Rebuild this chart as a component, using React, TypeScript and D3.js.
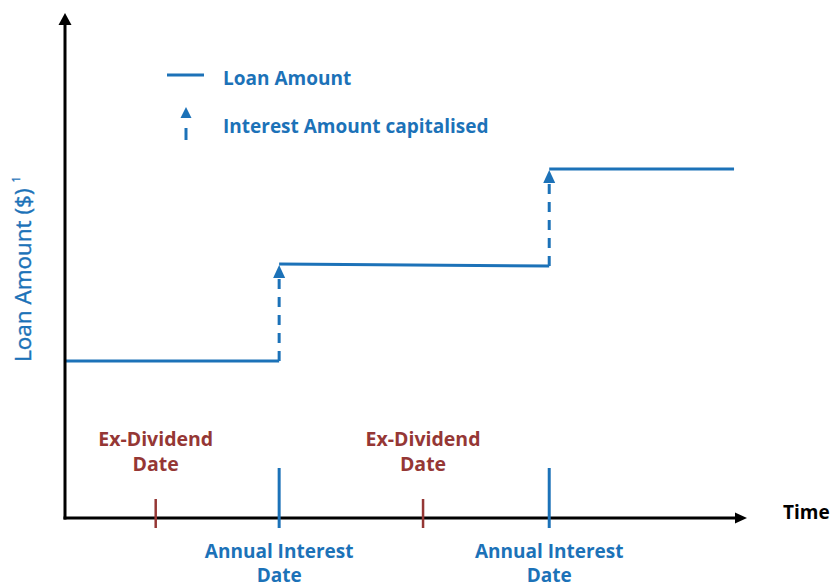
import React from "react";
import * as d3 from "d3";

// ---- data (abstract time units 0..100, loan amount units 0..100) ----
const segmentTimes = [0, 31.4, 71.0, 98.1];
const loanStartValues = [31.1, 50.3, 69.1];
const loanEndValues = [31.1, 49.9, 69.1];
const interestTimes = [31.4, 71.0];
const interestFrom = [31.1, 49.9];
const interestTo = [50.3, 69.1];
const exDividendDates = [13.3, 52.5];
const annualInterestDates = [31.4, 71.0];
const exDividendLabel = ["Ex-Dividend", "Date"];
const annualInterestLabel = ["Annual Interest", "Date"];
const legendLabels = ["Loan Amount", "Interest Amount capitalised"];
const yAxisTitle = "Loan Amount ($)";
const xAxisTitle = "Time";

const W = 833;
const H = 585;
const BLUE = "#1c72b8";
const RED = "#953735";
const FONT = "'Open Sans', 'Segoe UI', sans-serif";

export default function App() {
  const x = d3.scaleLinear().domain([0, 100]).range([65, 747]);
  const y = d3.scaleLinear().domain([0, 100]).range([518, 13]);
  const line = d3
    .line<[number, number]>()
    .x((d) => x(d[0]))
    .y((d) => y(d[1]));

  const x0 = x(0);
  const y0 = y(0);

  return (
    <svg
      width={W}
      height={H}
      style={{ position: "absolute", left: 0, top: 0, background: "#fff" }}
      fontFamily={FONT}
    >
      {/* loan amount segments */}
      {loanStartValues.map((v, i) => (
        <path
          key={"seg" + i}
          d={line([
            [segmentTimes[i], v],
            [segmentTimes[i + 1], loanEndValues[i]],
          ]) as string}
          fill="none"
          stroke={BLUE}
          strokeWidth={3}
        />
      ))}

      {/* interest capitalised arrows */}
      {interestTimes.map((t, i) => {
        const cx = x(t);
        const tip = y(interestTo[i]) + 1;
        const base = tip + 12;
        return (
          <g key={"arr" + i}>
            <line
              x1={cx}
              x2={cx}
              y1={y(interestFrom[i])}
              y2={base}
              stroke={BLUE}
              strokeWidth={3}
              strokeDasharray="10,8"
            />
            <path
              d={`M${cx},${tip} L${cx + 6},${base + 1} L${cx - 6},${base + 1} Z`}
              fill={BLUE}
            />
          </g>
        );
      })}

      {/* axes */}
      <line x1={x0} x2={x0} y1={y0 + 1.5} y2={y(100) + 8} stroke="#000" strokeWidth={3} />
      <path d={`M${x0},${y(100)} L${x0 + 6.5},${y(100) + 12} L${x0 - 6.5},${y(100) + 12} Z`} fill="#000" />
      <line x1={x0 - 1.5} x2={x(100) - 8} y1={y0} y2={y0} stroke="#000" strokeWidth={3} />
      <path d={`M${x(100)},${y0} L${x(100) - 12},${y0 - 5.5} L${x(100) - 12},${y0 + 5.5} Z`} fill="#000" />

      {/* ex-dividend ticks and labels */}
      {exDividendDates.map((t, i) => (
        <g key={"ex" + i}>
          <line x1={x(t)} x2={x(t)} y1={y0 - 19} y2={y0 + 10} stroke={RED} strokeWidth={2.5} />
          {exDividendLabel.map((s, j) => (
            <text
              key={j}
              x={x(t)}
              y={446 + j * 25}
              textAnchor="middle"
              fill={RED}
              fontSize={19.5}
              fontWeight={700}
            >
              {s}
            </text>
          ))}
        </g>
      ))}

      {/* annual interest ticks and labels */}
      {annualInterestDates.map((t, i) => (
        <g key={"ai" + i}>
          <line x1={x(t)} x2={x(t)} y1={y0 - 50} y2={y0 + 10} stroke={BLUE} strokeWidth={3} />
          {annualInterestLabel.map((s, j) => (
            <text
              key={j}
              x={x(t)}
              y={558 + j * 24}
              textAnchor="middle"
              fill={BLUE}
              fontSize={19}
              fontWeight={700}
            >
              {s}
            </text>
          ))}
        </g>
      ))}

      {/* axis titles */}
      <text x={783} y={519} fontSize={19} fontWeight={700} fill="#000">
        {xAxisTitle}
      </text>
      <text
        transform="translate(31,362) rotate(-90)"
        fontSize={22.5}
        fill={BLUE}
        stroke={BLUE}
        strokeWidth={0.4}
      >
        {yAxisTitle}
        <tspan dx={6} dy={-11} fontSize={11}>
          1
        </tspan>
      </text>

      {/* legend */}
      <line x1={167} x2={204} y1={75} y2={75} stroke={BLUE} strokeWidth={3} />
      <text x={223} y={85} fill={BLUE} fontSize={19} fontWeight={700}>
        {legendLabels[0]}
      </text>
      <path d="M186,107 L191.5,118 L180.5,118 Z" fill={BLUE} />
      <line x1={186} x2={186} y1={128} y2={140} stroke={BLUE} strokeWidth={3} />
      <text x={223} y={133} fill={BLUE} fontSize={19} fontWeight={700}>
        {legendLabels[1]}
      </text>
    </svg>
  );
}
